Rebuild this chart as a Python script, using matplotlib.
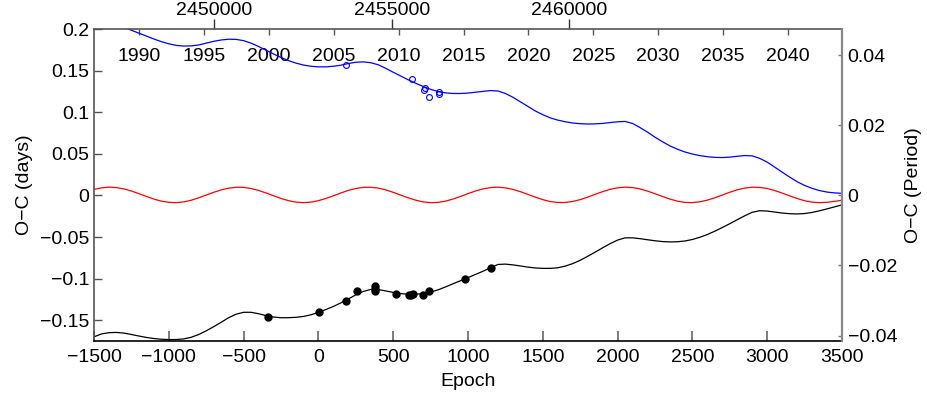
import matplotlib
matplotlib.use('Agg')
import matplotlib.pyplot as plt
from matplotlib.ticker import FuncFormatter

plt.rcParams['font.family'] = ['Liberation Sans', 'DejaVu Sans']
plt.rcParams['font.size'] = 14

# ephemeris used for the top axes
period = 4.2105
t0 = 2452938.4

# curves, every 50 epochs
blue_epoch = list(range(-1300, 3501, 50))
blue_oc = [0.2020, 0.1985, 0.1950, 0.1915, 0.1880, 0.1848, 0.1822, 0.1803, 0.1795, 0.1797,
           0.1808, 0.1830, 0.1852, 0.1868, 0.1877, 0.1875, 0.1860, 0.1830, 0.1790, 0.1745,
           0.1700, 0.1658, 0.1620, 0.1590, 0.1567, 0.1552, 0.1545, 0.1545, 0.1552, 0.1565,
           0.1585, 0.1600, 0.1605, 0.1595, 0.1570, 0.1528, 0.1480, 0.1435, 0.1390, 0.1348,
           0.1310, 0.1275, 0.1248, 0.1232, 0.1225, 0.1225, 0.1230, 0.1240, 0.1250, 0.1260,
           0.1255, 0.1225, 0.1180, 0.1125, 0.1070, 0.1015, 0.0970, 0.0932, 0.0905, 0.0885,
           0.0870, 0.0862, 0.0858, 0.0860, 0.0865, 0.0875, 0.0885, 0.0889, 0.0865, 0.0815,
           0.0760, 0.0700, 0.0645, 0.0595, 0.0555, 0.0522, 0.0497, 0.0478, 0.0465, 0.0457,
           0.0455, 0.0460, 0.0470, 0.0479, 0.0475, 0.0445, 0.0400, 0.0340, 0.0280, 0.0220,
           0.0165, 0.0120, 0.0085, 0.0058, 0.0040, 0.0030, 0.0025]

black_epoch = list(range(-1500, 3501, 50))
black_oc = [-0.1700, -0.1665, -0.1650, -0.1647, -0.1655, -0.1672, -0.1690, -0.1707, -0.1720, -0.1729,
            -0.1733, -0.1732, -0.1725, -0.1705, -0.1672, -0.1628, -0.1578, -0.1525, -0.1470, -0.1428,
            -0.1405, -0.1405, -0.1422, -0.1445, -0.1462, -0.1470, -0.1470, -0.1465, -0.1455, -0.1435,
            -0.1405, -0.1372, -0.1335, -0.1292, -0.1245, -0.1195, -0.1155, -0.1130, -0.1132, -0.1148,
            -0.1166, -0.1180, -0.1188, -0.1188, -0.1180, -0.1162, -0.1135, -0.1100, -0.1062, -0.1025,
            -0.0988, -0.0950, -0.0912, -0.0870, -0.0830, -0.0826, -0.0835, -0.0848, -0.0862, -0.0872,
            -0.0877, -0.0877, -0.0870, -0.0850, -0.0820, -0.0780, -0.0732, -0.0682, -0.0630, -0.0580,
            -0.0537, -0.0510, -0.0510, -0.0520, -0.0533, -0.0545, -0.0555, -0.0559, -0.0557, -0.0548,
            -0.0530, -0.0503, -0.0470, -0.0430, -0.0386, -0.0340, -0.0292, -0.0245, -0.0203, -0.0184,
            -0.0188, -0.0200, -0.0212, -0.0220, -0.0223, -0.0218, -0.0205, -0.0185, -0.0162, -0.0138,
            -0.0114]

red_epoch = list(range(-1500, 3501, 50))
red_oc = [0.0072, 0.0091, 0.0099, 0.0094, 0.0078, 0.0053, 0.0021, -0.0012, -0.0044, -0.0069,
          -0.0083, -0.0087, -0.0078, -0.0058, -0.0029, 0.0004, 0.0037, 0.0066, 0.0087, 0.0098,
          0.0097, 0.0083, 0.0060, 0.0029, -0.0004, -0.0037, -0.0063, -0.0081, -0.0087, -0.0081,
          -0.0063, -0.0037, -0.0005, 0.0029, 0.0060, 0.0083, 0.0097, 0.0098, 0.0088, 0.0066,
          0.0037, 0.0004, -0.0029, -0.0057, -0.0078, -0.0087, -0.0084, -0.0069, -0.0044, -0.0013,
          0.0021, 0.0053, 0.0078, 0.0094, 0.0099, 0.0091, 0.0072, 0.0045, 0.0012, -0.0021,
          -0.0051, -0.0074, -0.0085, -0.0085, -0.0073, -0.0051, -0.0021, 0.0013, 0.0045, 0.0073,
          0.0091, 0.0099, 0.0094, 0.0078, 0.0052, 0.0020, -0.0013, -0.0044, -0.0069, -0.0084,
          -0.0087, -0.0077, -0.0057, -0.0029, 0.0004, 0.0038, 0.0067, 0.0088, 0.0098, 0.0096,
          0.0083, 0.0059, 0.0028, -0.0005, -0.0037, -0.0064, -0.0081, -0.0087, -0.0083, -0.0072,
          -0.0058]

# observed minima
dot_epoch = [-335, 3, 183, 261, 376, 377, 378, 519, 608, 618, 630, 697, 739, 981, 1154]
dot_oc = [-0.1460, -0.1404, -0.1265, -0.1150, -0.1088, -0.1120, -0.1154, -0.1187, -0.1196,
          -0.1194, -0.1190, -0.1195, -0.1150, -0.0999, -0.0873]
circ_epoch = [184, 626, 711, 706, 739, 804, 808]
circ_oc = [0.1566, 0.1404, 0.1290, 0.1261, 0.1177, 0.1239, 0.1222]

jd_ticks = [2450000, 2455000, 2460000]
year_ticks = list(range(1990, 2041, 5))


def fmt(v, pos):
    return ('%g' % round(v, 6)).replace('-', '\u2212')


def ep2jd(e):
    return t0 + period * e


def jd2ep(j):
    return (j - t0) / period


def ep2yr(e):
    return 2000 + (t0 + period * e - 2451544.5) / 365.25


def yr2ep(y):
    return (2451544.5 + (y - 2000) * 365.25 - t0) / period


fig = plt.figure(figsize=(9.28, 4.0), dpi=100)
ax = fig.add_axes([0.1013, 0.1475, 0.806, 0.78])

ax.plot(blue_epoch, blue_oc, color='#0000ff', lw=0.9)
ax.plot(red_epoch, red_oc, color='#ff0000', lw=0.9)
ax.plot(black_epoch, black_oc, color='black', lw=0.9)
ax.plot(dot_epoch, dot_oc, 'o', color='black', ms=5)
ax.plot(circ_epoch, circ_oc, 'o', mfc='none', mec='#0000ff', ms=4.2, mew=0.8)

ax.set_xlim(-1500, 3500)
ax.set_ylim(-0.175, 0.2)
ax.set_xticks(range(-1500, 3501, 500))
ax.set_yticks([-0.15, -0.1, -0.05, 0, 0.05, 0.1, 0.15, 0.2])
ax.xaxis.set_major_formatter(FuncFormatter(fmt))
ax.yaxis.set_major_formatter(FuncFormatter(fmt))
ax.tick_params(axis='x', direction='in', length=7, width=1.2, color='#666666', pad=6)
ax.tick_params(axis='y', direction='in', length=6, width=1, color='#555555')
ax.set_xlabel('Epoch', labelpad=5)
ax.set_ylabel('O\u2212C (days)', labelpad=5)
for s in ['left', 'top']:
    ax.spines[s].set_color('#555555')
ax.spines['right'].set_visible(False)
ax.spines['bottom'].set_color('black')
for s in ax.spines.values():
    s.set_linewidth(1.2)

ax2 = ax.twinx()
ax2.set_ylim(-0.175 / period, 0.2 / period)
ax2.set_yticks([-0.04, -0.02, 0, 0.02, 0.04])
ax2.yaxis.set_major_formatter(FuncFormatter(fmt))
ax2.tick_params(axis='y', direction='in', length=3, width=1, color='#777777', pad=4)
ax2.set_ylabel('O\u2212C (Period)', labelpad=6)
ax2.spines['right'].set_color('#888888')
ax2.spines['right'].set_linewidth(1.6)
for s in ['left', 'top', 'bottom']:
    ax2.spines[s].set_visible(False)

top_jd = ax.secondary_xaxis('top', functions=(ep2jd, jd2ep))
top_jd.set_xticks(jd_ticks)
top_jd.xaxis.set_major_formatter(FuncFormatter(lambda v, p: '%d' % round(v)))
top_jd.tick_params(direction='out', length=7, width=1, color='#333333', pad=0.5)
top_jd.spines['top'].set_visible(False)

top_yr = ax.secondary_xaxis('top', functions=(ep2yr, yr2ep))
top_yr.set_xticks(year_ticks)
top_yr.xaxis.set_major_formatter(FuncFormatter(lambda v, p: '%d' % round(v)))
top_yr.tick_params(direction='in', length=4, width=1, color='#555555', pad=-26)
top_yr.spines['top'].set_visible(False)

fig.savefig('out.png', dpi=100)
